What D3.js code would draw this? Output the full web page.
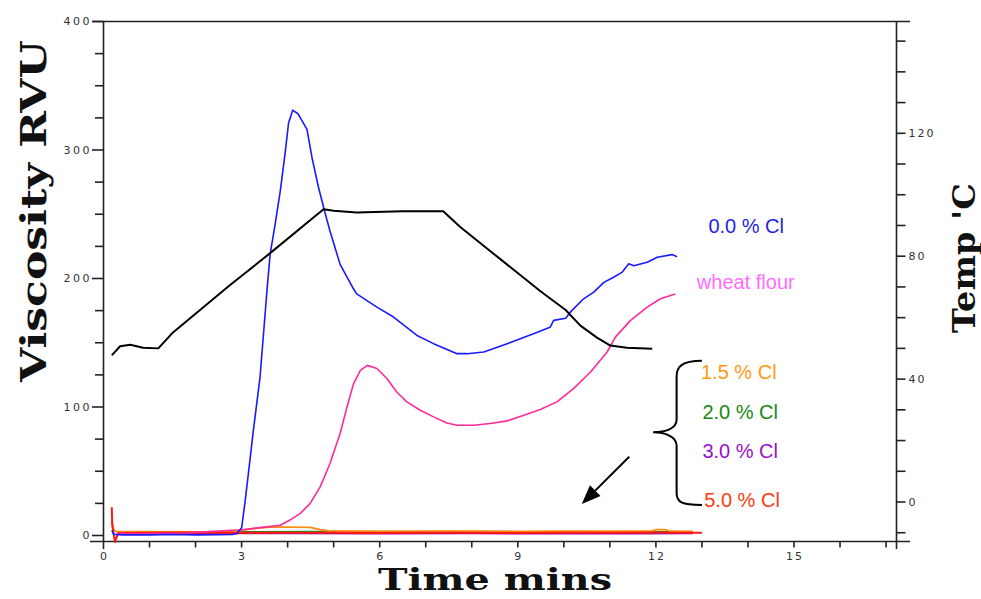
<!DOCTYPE html>
<html>
<head>
<meta charset="utf-8">
<script src="https://cdn.jsdelivr.net/npm/d3@7"></script>
<style>
  html, body { margin: 0; padding: 0; background: #ffffff; }
  svg { display: block; }
</style>
</head>
<body>
<svg id="chart" width="981" height="599"></svg>
<script>
// ---- Pasting viscosity (RVU) and temperature profile ----

// 0.0 % Cl
const blueT = [0.18, 0.22, 0.4, 1.0, 1.5, 2.0, 2.5, 2.8, 2.9, 3.0, 3.08, 3.25, 3.4, 3.55, 3.62, 3.73, 3.84, 3.95, 4.02, 4.11, 4.23, 4.42, 4.53, 4.67, 4.82, 4.92, 5.14, 5.43, 5.5, 5.94, 6.3, 6.81, 7.17, 7.68, 7.9, 8.26, 8.77, 9.34, 9.7, 9.78, 10.04, 10.14, 10.43, 10.65, 10.87, 11.08, 11.27, 11.41, 11.52, 11.81, 12.03, 12.35, 12.46];
const blueV = [4, 1, 0.5, 0.5, 0.8, 0.5, 0.6, 0.8, 1.5, 6, 27.5, 80, 123, 190, 219, 242.5, 268, 299, 321, 331, 328, 316, 294, 271, 250, 237, 211, 192, 188, 177.7, 170, 155.7, 149.3, 141.5, 141.5, 142.8, 149.3, 157, 162, 167.4, 169, 173.8, 184.2, 189.4, 197, 201, 205, 211.4, 210, 212.7, 216.5, 218.6, 217];

// wheat flour
const pinkT = [0.3, 1.0, 1.8, 2.3, 2.5, 3.0, 3.5, 3.84, 4.05, 4.27, 4.49, 4.71, 4.92, 5.14, 5.29, 5.43, 5.58, 5.73, 5.94, 6.16, 6.37, 6.59, 6.88, 7.17, 7.46, 7.68, 8.04, 8.4, 8.77, 9.13, 9.49, 9.85, 10.21, 10.58, 10.94, 11.12, 11.45, 11.81, 12.1, 12.42];
const pinkV = [1.5, 1.5, 2, 3, 3.5, 4.5, 6.5, 8, 12, 17, 25, 38, 56, 79.4, 100, 118, 128.5, 132.4, 130, 122, 111.7, 104, 97.5, 92.3, 87.6, 85.8, 85.8, 87.1, 89.2, 93.6, 98, 104, 114.3, 127.2, 142.8, 154.4, 167.4, 177.7, 184.2, 188];

// 1.5 % Cl
const orangeT = [0.18, 0.22, 0.3, 1.0, 2.0, 2.8, 3.0, 3.3, 3.6, 4.0, 4.5, 4.7, 4.9, 6.0, 7.5, 9.0, 10.0, 11.0, 11.9, 12.0, 12.2, 12.3, 12.8];
const orangeV = [12, 4, 3, 3, 2.8, 3, 4, 5.5, 6.5, 6.5, 6.3, 4.5, 3.5, 3.2, 3.3, 3.2, 3.4, 3.3, 3.3, 4.5, 4.5, 3.3, 3.2];

// 2.0 % Cl
const greenT = [0.3, 1.5, 3.3, 4.5, 6.0, 7.5, 9.0, 10.3, 11.5, 12.8];
const greenV = [2.4, 2.5, 2.8, 3.0, 2.9, 3.0, 2.8, 3.0, 2.8, 2.7];

// 3.0 % Cl
const purpleT = [0.3, 2.0, 4.0, 6.0, 8.0, 10.0, 11.5, 12.8];
const purpleV = [1.6, 1.7, 1.8, 1.6, 1.7, 1.5, 1.6, 1.7];

// 5.0 % Cl
const redT = [0.18, 0.19, 0.25, 0.32, 1.0, 2.0, 3.0, 4.0, 5.0, 6.0, 7.0, 8.0, 9.0, 10.0, 11.0, 12.0, 12.5, 13.0];
const redV = [22, 8, -5, 2, 2.2, 2.3, 2.2, 2.1, 2.2, 2.0, 2.1, 2.2, 2.0, 2.1, 2.2, 2.3, 2.1, 2.2];

// temperature profile ('C, right axis)
const tempT = [0.18, 0.36, 0.58, 0.86, 1.19, 1.51, 2.75, 3.62, 4.78, 5.0, 5.5, 6.5, 7.38, 7.75, 8.5, 9.5, 10.04, 10.36, 10.72, 11.01, 11.37, 11.92];
const tempC = [47.7, 50.7, 51.2, 50.2, 50.0, 55.2, 70.6, 81, 95.3, 94.8, 94.2, 94.6, 94.6, 89.5, 80.5, 68.5, 62.5, 57.4, 53.5, 50.9, 50.2, 49.9];

// axis ticks
const xTickLabels = [0, 3, 6, 9, 12, 15];
const yLeftTickLabels = [0, 100, 200, 300, 400];
const yRightTickLabels = [0, 40, 80, 120];

// label text, colours and anchor (time, RVU)
const labelText = ["0.0 % Cl", "wheat flour", "1.5 % Cl", "2.0 % Cl", "3.0 % Cl", "5.0 % Cl"];
const labelColor = ["#1f1fe8", "#ff6cff", "#ff9a10", "#138a13", "#9a10cc", "#ff3a10"];
const labelTime = [13.14, 12.89, 12.98, 13.01, 13.01, 13.05];
const labelRVU = [235.2, 191.8, 121.6, 90.4, 60.1, 22.4];

// ---- scales ----
const svg = d3.select("#chart");
const x = d3.scaleLinear().domain([0, 15]).range([103.5, 794]);
const yL = d3.scaleLinear().domain([0, 400]).range([535.5, 21.5]);
const yR = d3.scaleLinear().domain([0, 120]).range([502, 133.3]);

const xLeft = x(0), xRight = 896.5;
const yTop = 21.5, yBase = 541.5;
const axisColor = "#222";

// ---- frame / axes ----
const frame = svg.append("g").attr("stroke", axisColor).attr("stroke-width", 1.6).attr("fill", "none");
frame.append("line").attr("x1", 93).attr("x2", 910).attr("y1", yTop).attr("y2", yTop);       // top
frame.append("line").attr("x1", 90).attr("x2", 910).attr("y1", yBase).attr("y2", yBase);     // time axis
frame.append("line").attr("x1", xLeft).attr("x2", xLeft).attr("y1", yTop).attr("y2", 549);   // RVU axis
frame.append("line").attr("x1", xRight).attr("x2", xRight).attr("y1", yTop).attr("y2", 549); // temp axis

// time axis ticks (every minute, pointing down)
const xMinor = d3.range(1, 18);
frame.selectAll(".xt").data(xMinor).join("line")
  .attr("x1", d => x(d)).attr("x2", d => x(d))
  .attr("y1", yBase).attr("y2", yBase + 6);

const tickFont = "DejaVu Sans, sans-serif";
svg.append("g").selectAll("text").data(xTickLabels).join("text")
  .attr("x", d => x(d) + 1).attr("y", 560)
  .attr("text-anchor", "middle")
  .attr("font-family", tickFont).attr("font-size", 11)
  .attr("letter-spacing", "2px").attr("fill", "#333")
  .text(d => d);

// RVU axis ticks (every 25, pointing left)
const yMinor = d3.range(0, 401, 25);
frame.selectAll(".yl").data(yMinor).join("line")
  .attr("x1", d => d % 100 === 0 ? 92 : 95).attr("x2", xLeft)
  .attr("y1", d => yL(d)).attr("y2", d => yL(d));

svg.append("g").selectAll("text").data(yLeftTickLabels).join("text")
  .attr("x", 92).attr("y", d => yL(d))
  .attr("dy", "0.35em")
  .attr("text-anchor", "end")
  .attr("font-family", tickFont).attr("font-size", 11)
  .attr("letter-spacing", "2.5px").attr("fill", "#333")
  .text(d => d);

// temperature axis ticks (every 10, pointing right)
const yRMinor = d3.range(-10, 151, 10);
frame.selectAll(".yr").data(yRMinor).join("line")
  .attr("x1", xRight).attr("x2", xRight + 9)
  .attr("y1", d => yR(d)).attr("y2", d => yR(d));

svg.append("g").selectAll("text").data(yRightTickLabels).join("text")
  .attr("x", xRight + 12).attr("y", d => yR(d))
  .attr("dy", "0.35em")
  .attr("font-family", tickFont).attr("font-size", 11)
  .attr("letter-spacing", "2px").attr("fill", "#333")
  .text(d => d);

// ---- axis titles ----
const titleFont = "DejaVu Serif, serif";
svg.append("text")
  .attr("transform", "translate(46,211) rotate(-90)")
  .attr("text-anchor", "middle")
  .attr("font-family", titleFont).attr("font-weight", "bold").attr("font-size", 36)
  .attr("textLength", 342).attr("lengthAdjust", "spacingAndGlyphs")
  .attr("fill", "#111")
  .text("Viscosity RVU");

svg.append("text")
  .attr("x", 495).attr("y", 590)
  .attr("text-anchor", "middle")
  .attr("font-family", titleFont).attr("font-weight", "bold").attr("font-size", 29)
  .attr("textLength", 234).attr("lengthAdjust", "spacingAndGlyphs")
  .attr("fill", "#111")
  .text("Time mins");

svg.append("text")
  .attr("transform", "translate(975,258) rotate(-90)")
  .attr("text-anchor", "middle")
  .attr("font-family", titleFont).attr("font-weight", "bold").attr("font-size", 31)
  .attr("textLength", 150).attr("lengthAdjust", "spacingAndGlyphs")
  .attr("fill", "#111")
  .text("Temp 'C");

// ---- curves ----
const zipped = (ts, vs) => ts.map((t, i) => [t, vs[i]]);
const lineL = d3.line().x(d => x(d[0])).y(d => yL(d[1]));
const lineR = d3.line().x(d => x(d[0])).y(d => yR(d[1]));

const curves = svg.append("g").attr("fill", "none").attr("stroke-linejoin", "round");
curves.append("path").attr("d", lineL(zipped(purpleT, purpleV))).attr("stroke", "#9a0aa8").attr("stroke-width", 2);
curves.append("path").attr("d", lineL(zipped(greenT, greenV))).attr("stroke", "#1c8c1c").attr("stroke-width", 2);
curves.append("path").attr("d", lineL(zipped(orangeT, orangeV))).attr("stroke", "#ff8c10").attr("stroke-width", 1.8);
curves.append("path").attr("d", lineL(zipped(redT, redV))).attr("stroke", "#ff1a10").attr("stroke-width", 2);
curves.append("path").attr("d", lineL(zipped(pinkT, pinkV))).attr("stroke", "#ff2a9a").attr("stroke-width", 1.6);
curves.append("path").attr("d", lineL(zipped(blueT, blueV))).attr("stroke", "#1a1aff").attr("stroke-width", 1.6);
curves.append("path").attr("d", lineR(zipped(tempT, tempC))).attr("stroke", "#000").attr("stroke-width", 2);

// ---- series labels ----
svg.append("g").selectAll("text").data(labelText).join("text")
  .attr("x", (d, i) => x(labelTime[i]))
  .attr("y", (d, i) => yL(labelRVU[i]))
  .attr("font-family", "Liberation Sans, Arial, sans-serif")
  .attr("font-size", 20)
  .attr("fill", (d, i) => labelColor[i])
  .text(d => d);

// ---- brace grouping the low curves ----
const braceP = d3.path();
braceP.moveTo(x(13.0), yL(136));
braceP.bezierCurveTo(x(12.55), yL(136), x(12.45), yL(131), x(12.45), yL(124));
braceP.lineTo(x(12.45), yL(90));
braceP.bezierCurveTo(x(12.45), yL(83), x(12.2), yL(80.3), x(11.94), yL(80.3));
braceP.bezierCurveTo(x(12.2), yL(80.3), x(12.45), yL(77), x(12.45), yL(70));
braceP.lineTo(x(12.45), yL(33));
braceP.bezierCurveTo(x(12.45), yL(26), x(12.55), yL(23.7), x(13.0), yL(23.7));
svg.append("path").attr("d", braceP.toString())
  .attr("fill", "none").attr("stroke", "#000").attr("stroke-width", 2);

// ---- arrow pointing at the low curves ----
const aFrom = [x(11.42), yL(61.3)], aTo = [x(10.39), yL(24.5)];
const ang = Math.atan2(aTo[1] - aFrom[1], aTo[0] - aFrom[0]);
const headLen = 19, headHalf = 7.5;
const bx = aTo[0] - headLen * Math.cos(ang), by = aTo[1] - headLen * Math.sin(ang);
svg.append("line")
  .attr("x1", aFrom[0]).attr("y1", aFrom[1]).attr("x2", bx).attr("y2", by)
  .attr("stroke", "#000").attr("stroke-width", 2);
svg.append("path")
  .attr("d", d3.line()([
    aTo,
    [bx + headHalf * Math.sin(ang), by - headHalf * Math.cos(ang)],
    [bx - headHalf * Math.sin(ang), by + headHalf * Math.cos(ang)]
  ]) + "Z")
  .attr("fill", "#000");
</script>
</body>
</html>
